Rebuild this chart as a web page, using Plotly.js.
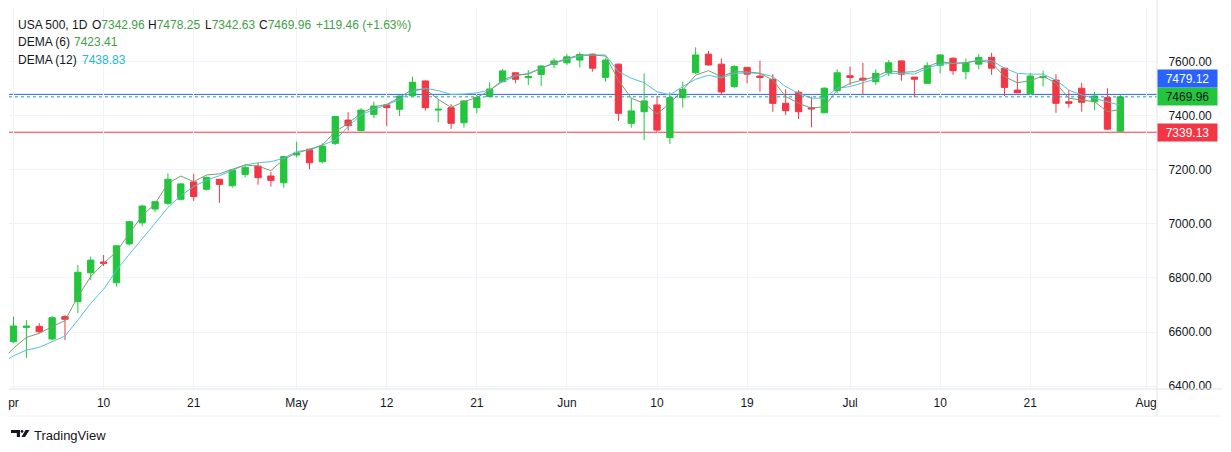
<!DOCTYPE html>
<html><head><meta charset="utf-8">
<script src="https://cdn.plot.ly/plotly-3.0.1.min.js"></script>
<style>html,body{margin:0;padding:0;background:#fff;}#chart{width:1231px;height:452px;}</style>
</head><body><div id="chart"></div><script>
// ---- data ----
const dates = [
 '2026-04-01','2026-04-02','2026-04-03','2026-04-06','2026-04-07','2026-04-08','2026-04-09','2026-04-10',
 '2026-04-13','2026-04-14','2026-04-15','2026-04-16','2026-04-17','2026-04-20','2026-04-21','2026-04-22',
 '2026-04-23','2026-04-24','2026-04-27','2026-04-28','2026-04-29','2026-04-30',
 '2026-05-01','2026-05-04','2026-05-05','2026-05-06','2026-05-07','2026-05-08','2026-05-11','2026-05-12',
 '2026-05-13','2026-05-14','2026-05-15','2026-05-18','2026-05-19','2026-05-20','2026-05-21','2026-05-22',
 '2026-05-25','2026-05-26','2026-05-27','2026-05-28','2026-05-29',
 '2026-06-01','2026-06-02','2026-06-03','2026-06-04','2026-06-05','2026-06-08','2026-06-09','2026-06-10',
 '2026-06-11','2026-06-12','2026-06-15','2026-06-16','2026-06-17','2026-06-18','2026-06-19','2026-06-22',
 '2026-06-23','2026-06-24','2026-06-25','2026-06-26','2026-06-29','2026-06-30',
 '2026-07-01','2026-07-02','2026-07-03','2026-07-06','2026-07-07','2026-07-08','2026-07-09','2026-07-10',
 '2026-07-13','2026-07-14','2026-07-15','2026-07-16','2026-07-17','2026-07-20','2026-07-21','2026-07-22',
 '2026-07-23','2026-07-24','2026-07-27','2026-07-28','2026-07-29','2026-07-30'
];
const opens = [6564,6617,6621,6574,6657,6712,6819,6859,6782,6926,7004,7055,7076,7091,7155,7128,7165,7141,7183,7214,7177,7152,
 7255,7276,7230,7298,7384,7345,7405,7440,7424,7474,7529,7421,7430,7374,7430,7471,7526,7559,7541,7553,7590,
 7596,7606,7628,7542,7591,7372,7415,7440,7319,7467,7559,7628,7591,7508,7579,7547,7535,7446,7487,7430,7411,7493,
 7548,7539,7526,7559,7603,7543,7520,7587,7613,7563,7591,7616,7576,7495,7481,7541,7532,7452,7502,7452,7468,7342.96];
const highs = [6657,6644,6633,6659,6662,6848,6879,6885,6921,7010,7070,7085,7187,7150,7185,7175,7166,7200,7218,7226,7192,7250,
 7304,7278,7298,7400,7413,7428,7452,7441,7475,7545,7530,7461,7444,7458,7477,7524,7573,7560,7569,7586,7613,
 7628,7635,7630,7612,7593,7465,7557,7473,7487,7526,7653,7640,7612,7588,7580,7604,7554,7498,7495,7471,7505,7572,
 7582,7596,7572,7606,7605,7544,7598,7628,7616,7612,7628,7633,7578,7554,7557,7567,7554,7495,7522,7489,7502,7478.25];
const lows = [6560,6504,6596,6570,6570,6670,6792,6844,6768,6920,6992,7044,7070,7088,7085,7123,7078,7134,7172,7145,7138,7134,
 7246,7202,7224,7292,7345,7343,7391,7362,7399,7472,7419,7376,7351,7356,7409,7470,7524,7520,7514,7510,7576,
 7588,7579,7563,7526,7381,7356,7310,7337,7296,7430,7555,7586,7477,7502,7520,7489,7415,7403,7388,7357,7410,7483,
 7514,7480,7514,7547,7530,7468,7518,7557,7551,7535,7572,7551,7473,7484,7480,7508,7411,7430,7415,7421,7348,7342.63];
const closes = [6622,6622,6601,6653,6647,6821,6866,6854,6919,7008,7066,7082,7165,7148,7101,7172,7146,7199,7209,7171,7161,7249,
 7261,7226,7288,7397,7363,7421,7436,7430,7473,7524,7430,7424,7372,7455,7468,7499,7566,7535,7545,7584,7603,
 7618,7627,7576,7606,7409,7418,7455,7347,7467,7498,7625,7588,7488,7582,7554,7542,7446,7419,7415,7425,7502,7559,
 7542,7532,7557,7596,7554,7535,7585,7625,7567,7596,7616,7576,7505,7485,7547,7545,7446,7446,7450,7473,7350.50,7469.96];
// indicator lines (first point is the day before the first visible candle)
const lineDates = ['2026-03-31'].concat(dates);
const dema6 = [6490,6540,6580,6595,6620,6642,6731,6805,6854,6897,6965,7030,7075,7150,7177,7156,7181,7185,7202,7218,7214,7197,7239,
 7262,7276,7292,7341,7372,7409,7433,7442,7468,7498,7498,7461,7431,7452,7468,7493,7532,7551,7554,7576,7596,
 7612,7625,7625,7621,7532,7465,7446,7407,7446,7495,7550,7567,7545,7563,7563,7557,7532,7471,7446,7428,7434,7495,
 7520,7533,7545,7567,7561,7563,7582,7600,7594,7596,7604,7596,7545,7522,7530,7547,7520,7465,7458,7452,7415,7423.41];
const dema12 = [6480,6512,6533,6543,6564,6585,6644,6706,6758,6828,6888,6944,7002,7061,7104,7138,7162,7178,7197,7218,7226,7230,7243,
 7268,7273,7292,7310,7360,7403,7424,7440,7461,7489,7502,7493,7479,7480,7485,7495,7526,7547,7557,7576,7594,
 7609,7621,7625,7625,7563,7539,7522,7489,7477,7508,7535,7550,7540,7557,7559,7557,7545,7508,7483,7465,7465,7502,
 7508,7522,7536,7557,7557,7554,7576,7591,7594,7596,7606,7604,7576,7557,7554,7554,7532,7495,7477,7465,7452,7438.83];
const blueLine = 7479.12;
const redLine = 7339.13;
const yTicks = [6400,6600,6800,7000,7200,7400,7600];
const xTickVals = ['2026-04-01','2026-04-10','2026-04-21','2026-05-01','2026-05-12','2026-05-21','2026-06-01',
 '2026-06-10','2026-06-19','2026-07-01','2026-07-10','2026-07-21','2026-08-03'];
const xTickText = ['pr','10','21','May','12','21','Jun','10','19','Jul','10','21','Aug'];
const symbolTitle = 'USA 500, 1D';

// ---- styling ----
const UP = '#22c53b', DN = '#f23645', TXT = '#131722', GRID = '#f0f3fa';
const FONT = 'Liberation Sans, Arial, sans-serif';
const L = 9, R = 1157, T = 8, B = 389, W = 1231, H = 452;
const px = v => (v - L) / (R - L);
const py = v => (B - v) / (B - T);

const n = closes.length;
const lastO = opens[n-1], lastH = highs[n-1], lastL = lows[n-1], lastC = closes[n-1];
const chg = lastC - closes[n-2];
const pct = chg / closes[n-2] * 100;
const sgn = chg >= 0 ? '+' : '';
const valCol = chg >= 0 ? '#43a047' : DN;

const traces = [
 {type:'scatter', mode:'lines', x: lineDates, y: dema12, line:{color:'#55c1d9', width:1}, hoverinfo:'skip', showlegend:false},
 {type:'scatter', mode:'lines', x: lineDates, y: dema6, line:{color:'#7a9e72', width:1}, hoverinfo:'skip', showlegend:false},
 {type:'candlestick', x: dates, open: opens, high: highs, low: lows, close: closes,
  increasing:{line:{color:UP, width:1}, fillcolor:UP},
  decreasing:{line:{color:DN, width:1}, fillcolor:DN},
  whiskerwidth:0, hoverinfo:'skip', showlegend:false}
];

const ann = [];
function txt(x, y, t, color, size, extra) {
  ann.push(Object.assign({xref:'paper', yref:'paper', x: px(x - 2), y: py(y), xanchor:'left', yanchor:'middle',
    text: t, showarrow:false, font:{family:FONT, size:size||12, color:color||TXT}}, extra||{}));
}
txt(18, 24.5, symbolTitle);
txt(92, 24.5, 'O<span style="color:'+valCol+'">'+lastO.toFixed(2)+'</span>');
txt(148, 24.5, 'H<span style="color:'+valCol+'">'+lastH.toFixed(2)+'</span>');
txt(205, 24.5, 'L<span style="color:'+valCol+'">'+lastL.toFixed(2)+'</span>');
txt(259, 24.5, 'C<span style="color:'+valCol+'">'+lastC.toFixed(2)+'</span>');
txt(316, 24.5, sgn + chg.toFixed(2) + ' (' + sgn + pct.toFixed(2) + '%)', valCol);
txt(18, 42, 'DEMA (6)');
txt(74, 42, dema6[dema6.length-1].toFixed(2), '#43a047');
txt(18, 59.5, 'DEMA (12)');
txt(82, 59.5, dema12[dema12.length-1].toFixed(2), '#26b8d0');
// logo text
txt(34, 435, 'TradingView', TXT, 13);

// price boxes on the right scale
function priceBox(val, bg, fg, shift) {
  ann.push({xref:'paper', yref:'y', x: 1, y: val, xanchor:'left', yanchor:'middle', yshift: shift||0,
    text: val.toFixed(2), showarrow:false, bgcolor: bg, width: 55, height: 13, borderpad: 2, align:'center',
    font:{family:FONT, size:12, color: fg}});
}
priceBox(lastC, UP, TXT, 0);
priceBox(redLine, DN, '#ffffff', 0);
priceBox(blueLine, '#2962ff', '#ffffff', 15.5);

const shapes = [
 {type:'line', xref:'paper', yref:'y', x0:0, x1:1, y0:blueLine, y1:blueLine, line:{color:'#2962ff', width:1}, layer:'below'},
 {type:'line', xref:'paper', yref:'y', x0:0, x1:1, y0:redLine, y1:redLine, line:{color:DN, width:1}, layer:'below'},
 {type:'line', xref:'paper', yref:'y', x0:0, x1:1, y0:lastC, y1:lastC, line:{color:'#2b9a8a', width:1, dash:'dot'}, layer:'above'},
 // frame lines
 {type:'line', xref:'paper', yref:'paper', x0:px(L), x1:px(1222), y0:py(389), y1:py(389), line:{color:'#e0e3eb', width:1}},
 {type:'line', xref:'paper', yref:'paper', x0:px(L), x1:px(1222), y0:py(416), y1:py(416), line:{color:'#eef0f4', width:1}},
 {type:'line', xref:'paper', yref:'paper', x0:px(1157), x1:px(1157), y0:py(0), y1:py(416), line:{color:'#e0e3eb', width:1}},
 // TradingView logo mark
 {type:'path', xref:'paper', yref:'paper', fillcolor:TXT, line:{width:0},
  path:'M '+px(11)+' '+py(430)+' L '+px(20)+' '+py(430)+' L '+px(20)+' '+py(437)+' L '+px(16.8)+' '+py(437)+' L '+px(16.8)+' '+py(433)+' L '+px(11)+' '+py(433)+' Z'},
 {type:'circle', xref:'paper', yref:'paper', fillcolor:TXT, line:{width:0}, x0:px(20.6), x1:px(23.4), y0:py(430), y1:py(432.8)},
 {type:'path', xref:'paper', yref:'paper', fillcolor:TXT, line:{width:0},
  path:'M '+px(25.5)+' '+py(430)+' L '+px(29.5)+' '+py(430)+' L '+px(25)+' '+py(437)+' L '+px(21.5)+' '+py(437)+' Z'}
];

const layout = {
  width: W, height: H,
  margin: {l: L, r: W - R, t: T, b: H - B, pad: 0},
  paper_bgcolor: '#ffffff', plot_bgcolor: '#ffffff',
  showlegend: false, dragmode: false, hovermode: false,
  font: {family: FONT, size: 12, color: TXT},
  xaxis: {
    type: 'date',
    range: ['2026-03-31 15:36', '2026-08-03 20:24'],
    rangebreaks: [{bounds: ['sat', 'mon']}],
    rangeslider: {visible: false},
    tickmode: 'array', tickvals: xTickVals, ticktext: xTickText,
    showgrid: true, gridcolor: GRID, gridwidth: 1,
    zeroline: false, showline: false,
    ticks: 'outside', ticklen: 3, tickcolor: 'rgba(0,0,0,0)',
    tickfont: {family: FONT, size: 12, color: TXT},
    fixedrange: true
  },
  yaxis: {
    side: 'right', range: [6389.1, 7798.7],
    tickmode: 'array', tickvals: yTicks, tickformat: '.2f',
    showgrid: true, gridcolor: GRID, gridwidth: 1,
    zeroline: false, showline: false,
    ticks: 'outside', ticklen: 8, tickcolor: 'rgba(0,0,0,0)',
    tickfont: {family: FONT, size: 12, color: TXT},
    fixedrange: true
  },
  shapes: shapes,
  annotations: ann
};

Plotly.newPlot('chart', traces, layout, {displayModeBar: false, staticPlot: true});
</script></body></html>
